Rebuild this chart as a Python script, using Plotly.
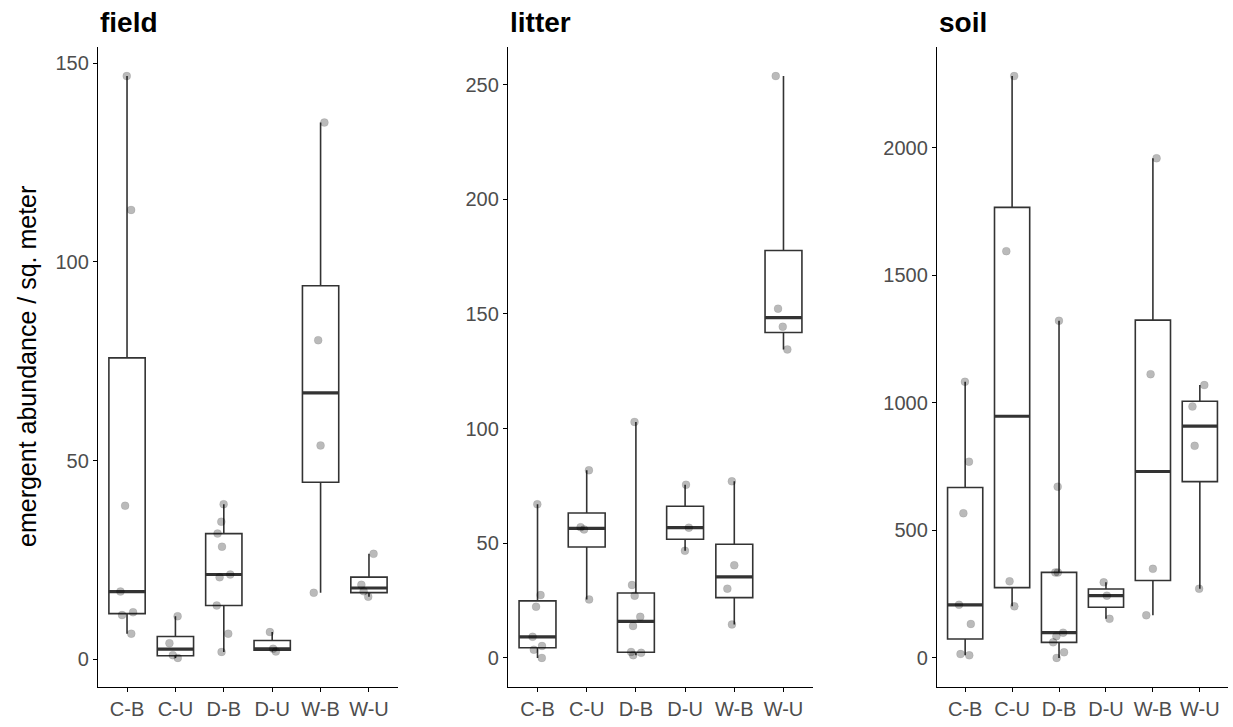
import numpy as np
import plotly.graph_objects as go

categories = ["C-B", "C-U", "D-B", "D-U", "W-B", "W-U"]
panel_names = ["field", "litter", "soil"]

field = [
    [6.4, 11.1, 11.8, 17.0, 38.6, 113.1, 146.8],
    [0.3, 1.0, 4.0, 10.8],
    [1.8, 6.4, 13.5, 20.6, 21.3, 28.3, 31.6, 34.6, 39.0],
    [1.9, 2.6, 6.8],
    [16.7, 53.8, 80.3, 135.1],
    [15.7, 17.1, 18.7, 26.5],
]
litter = [
    [0.0, 3.6, 5.2, 9.2, 22.3, 27.4, 67.0],
    [25.5, 56.0, 57.0, 81.8],
    [1.2, 2.2, 2.6, 13.9, 17.9, 27.1, 31.8, 102.9],
    [46.7, 56.8, 75.5],
    [14.6, 30.2, 40.4, 77.0],
    [134.5, 144.4, 152.3, 253.7],
]
soil = [
    [10, 15, 133, 208, 567, 769, 1082],
    [202, 300, 1594, 2280],
    [0, 22, 61, 85, 99, 335, 335, 671, 1321],
    [153, 244, 296],
    [167, 349, 1112, 1958],
    [271, 831, 985, 1069],
]
tick_steps = [50, 50, 500]

panels = [field, litter, soil]

W, H = 1233, 727
x_dom_px = [(98, 398), (508, 813), (937, 1228)]
y_dom_px = (47, 687)
FONT = "Liberation Sans, Arial, sans-serif"
BOX_LINE = "#333333"

fig = go.Figure()

for i, data in enumerate(panels):
    ax = "" if i == 0 else str(i + 1)
    xa, ya = "x" + ax, "y" + ax
    q1, med, q3, lo, hi = [], [], [], [], []
    for vals in data:
        v = np.asarray(vals, dtype=float)
        q1.append(float(np.percentile(v, 25)))
        med.append(float(np.percentile(v, 50)))
        q3.append(float(np.percentile(v, 75)))
        lo.append(float(v.min()))
        hi.append(float(v.max()))
    # box + whiskers
    fig.add_trace(go.Box(
        x=categories, q1=q1, median=med, q3=q3, lowerfence=lo, upperfence=hi,
        boxpoints=False, width=0.75, whiskerwidth=0,
        fillcolor="white", line=dict(color=BOX_LINE, width=1.6),
        xaxis=xa, yaxis=ya, showlegend=False, hoverinfo="skip",
    ))
    # thick median line
    fig.add_trace(go.Box(
        x=categories, q1=med, median=med, q3=med, lowerfence=med, upperfence=med,
        boxpoints=False, width=0.75, whiskerwidth=0,
        fillcolor="rgba(0,0,0,0)", line=dict(color=BOX_LINE, width=3.2),
        xaxis=xa, yaxis=ya, showlegend=False, hoverinfo="skip",
    ))
    # jittered points
    px_, py_ = [], []
    for c, vals in zip(categories, data):
        px_ += [c] * len(vals)
        py_ += list(vals)
    fig.add_trace(go.Box(
        x=px_, y=py_, boxpoints="all", jitter=0.45, pointpos=0, width=0.75,
        fillcolor="rgba(0,0,0,0)", line=dict(color="rgba(0,0,0,0)", width=0),
        marker=dict(color="rgba(0,0,0,0.27)", size=8,
                    line=dict(width=0.6, color="rgba(0,0,0,0.12)")),
        xaxis=xa, yaxis=ya, showlegend=False, hoverinfo="y",
    ))

    allv = np.concatenate([np.asarray(d, dtype=float) for d in data])
    vmin, vmax = allv.min(), allv.max()
    span = vmax - vmin
    yr = [vmin - 0.05 * span, vmax + 0.05 * span]

    x0, x1 = x_dom_px[i]
    axis_common = dict(
        showline=True, linecolor="black", linewidth=1.3, mirror=False,
        ticks="outside", ticklen=4, tickwidth=1.3, tickcolor="black",
        showgrid=False, zeroline=False,
        tickfont=dict(family=FONT, size=20, color="#4D4D4D"),
    )
    fig.layout["xaxis" + ax] = dict(
        domain=[x0 / W, x1 / W], anchor=ya,
        type="category", categoryorder="array", categoryarray=categories,
        range=[-0.6, len(categories) - 0.4], **axis_common,
    )
    fig.layout["yaxis" + ax] = dict(
        domain=[(H - y_dom_px[1]) / H, (H - y_dom_px[0]) / H], anchor=xa,
        range=yr, dtick=tick_steps[i], tick0=0, **axis_common,
    )
    fig.add_annotation(
        text="<b>" + panel_names[i] + "</b>", xref="paper", yref="paper",
        x=x0 / W, y=(H - 22) / H, xanchor="left", yanchor="middle",
        showarrow=False, font=dict(family=FONT, size=28, color="black"),
    )

fig.add_annotation(
    text="emergent abundance / sq. meter", xref="paper", yref="paper",
    x=27 / W, y=(H - (y_dom_px[0] + y_dom_px[1]) / 2) / H,
    xanchor="center", yanchor="middle", textangle=-90, showarrow=False,
    font=dict(family=FONT, size=25, color="black"),
)

fig.update_layout(
    width=W, height=H, margin=dict(l=0, r=0, t=0, b=0),
    paper_bgcolor="white", plot_bgcolor="white", boxmode="overlay",
    showlegend=False,
)

fig.write_html(
    "out.html",
    config={"displayModeBar": False},
    post_script="document.body.style.margin='0px';document.body.style.overflow='hidden';",
)
